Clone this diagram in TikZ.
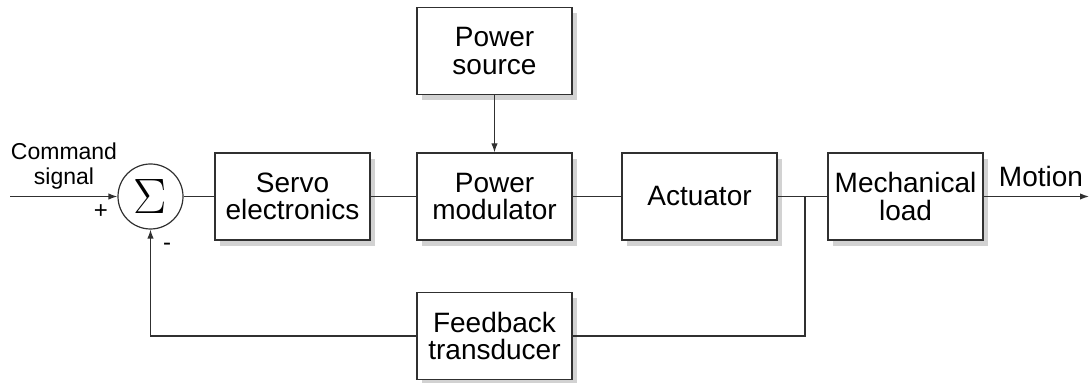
\documentclass[tikz,border=0pt]{standalone}
\usepackage{fontspec}
\setmainfont{Liberation Sans}
\usetikzlibrary{arrows.meta,shadows}
\definecolor{ln}{HTML}{303030}
\definecolor{shd}{HTML}{D2D2D2}
\tikzset{
  blk/.style={draw=ln, line width=0.6pt, fill=white, minimum width=77.5pt, minimum height=43.5pt,
    inner sep=0pt, align=center, font=\fontsize{14}{13.8}\selectfont,
    drop shadow={shadow xshift=2.6pt, shadow yshift=-2.8pt, fill=shd, opacity=1}},
  sumnode/.style={circle, draw=ln, line width=0.6pt, minimum size=32.5pt, inner sep=0pt},
  conn/.style={draw=ln, line width=0.6pt},
  arr/.style={conn, -{Latex[length=4.5pt,width=3.2pt]}},
  lbl/.style={inner sep=0pt, align=center}
}
\begin{document}
\begin{tikzpicture}[x=0.5pt,y=-0.5pt]
\useasboundingbox (0,0) rectangle (1091,383);
\node[sumnode] (sum) at (150.5,196.5) {\fontsize{23}{23}\selectfont$\Sigma$};
\node[blk] (servo) at (292.5,196.5) {Servo\\electronics};
\node[blk] (mod) at (494.5,196.5) {Power\\modulator};
\node[blk] (src) at (494.5,51) {Power\\source};
\node[blk] (act) at (699.5,196.5) {Actuator};
\node[blk] (mech) at (905.5,196.5) {Mechanical\\load};
\node[blk] (fb) at (494.5,336) {Feedback\\transducer};
\coordinate (in) at (10,196.5);
\coordinate (j) at (805,196.5);
\coordinate (out) at (1089,196.5);
\node[lbl, font=\fontsize{11.5}{12.5}\selectfont] (cmd) at (64,166) {Command\\signal};
\node[lbl, font=\fontsize{14}{14}\selectfont] (mot) at (1041,176) {Motion};
\node[lbl, font=\fontsize{12}{12}\selectfont] (plus) at (101,212) {+};
\node[lbl, font=\fontsize{12}{12}\selectfont] (minus) at (167,247) {-};
\draw[arr] (in) -- (sum.west);
\draw[conn] (sum.east) -- (servo.west);
\draw[conn] (servo.east) -- (mod.west);
\draw[arr] (src.south) -- (mod.north);
\draw[conn] (mod.east) -- (act.west);
\draw[conn] (act.east) -- (mech.west);
\draw[arr] (mech.east) -- (out);
\draw[conn] (j) |- (fb.east);
\draw[arr] (fb.west) -| (sum.south);
\end{tikzpicture}
\end{document}
